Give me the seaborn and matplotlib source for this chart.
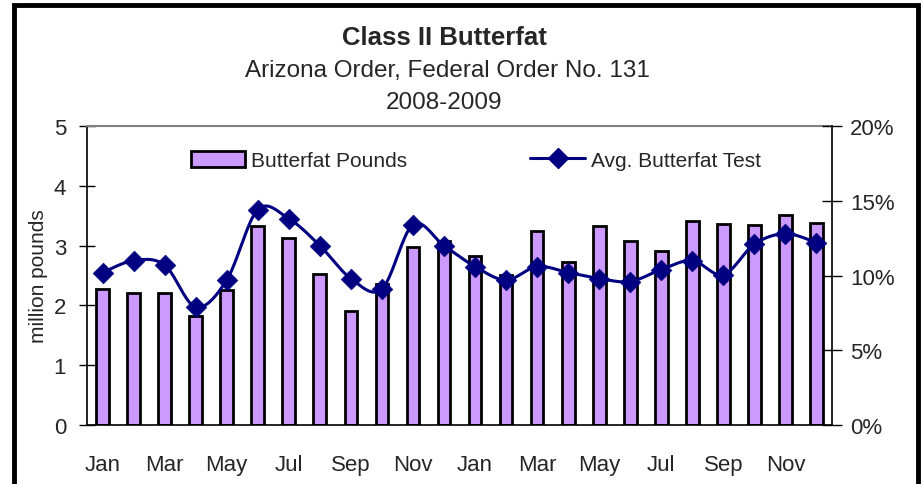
"""
Class II Butterfat chart - Arizona Order, Federal Order No. 131, 2008-2009
"""

import numpy as np
import pandas as pd
import matplotlib.pyplot as plt
import seaborn as sns
from matplotlib.patches import Rectangle
from matplotlib.lines import Line2D

# -----------------------------
# Data
# -----------------------------
months = ["Jan", "Feb", "Mar", "Apr", "May", "Jun",
          "Jul", "Aug", "Sep", "Oct", "Nov", "Dec"] * 2
years = [2008] * 12 + [2009] * 12

# million pounds
butterfat_pounds = [2.27, 2.21, 2.20, 1.83, 2.25, 3.33, 3.13, 2.53, 1.91, 2.36, 2.97, 3.08,
                    2.82, 2.51, 3.25, 2.72, 3.33, 3.08, 2.91, 3.42, 3.36, 3.34, 3.52, 3.37]

# percent
avg_test = [10.2, 11.0, 10.7, 7.9, 9.7, 14.4, 13.8, 12.0, 9.8, 9.1, 13.4, 12.0,
            10.6, 9.7, 10.6, 10.2, 9.8, 9.6, 10.4, 11.0, 10.05, 12.1, 12.8, 12.2]

tick_labels = ["Jan", "Mar", "May", "Jul", "Sep", "Nov"] * 2

BAR_COLOR = "#CC99FF"
LINE_COLOR = "#000080"


def smooth(x, y, n=20):
    # Catmull-Rom style curve through the points, like a spreadsheet "smoothed line"
    x = np.asarray(x, float)
    y = np.asarray(y, float)
    px = np.concatenate([[x[0]], x, [x[-1]]])
    py = np.concatenate([[y[0]], y, [y[-1]]])
    xs, ys = [], []
    t = np.linspace(0, 1, n, endpoint=False)
    for i in range(1, len(px) - 2):
        p0, p1, p2, p3 = px[i - 1], px[i], px[i + 1], px[i + 2]
        q0, q1, q2, q3 = py[i - 1], py[i], py[i + 1], py[i + 2]
        c1x, c1y = p1 + (p2 - p0) / 6, q1 + (q2 - q0) / 6
        c2x, c2y = p2 - (p3 - p1) / 6, q2 - (q3 - q1) / 6
        b = [(1 - t) ** 3, 3 * (1 - t) ** 2 * t, 3 * (1 - t) * t ** 2, t ** 3]
        xs.append(b[0] * p1 + b[1] * c1x + b[2] * c2x + b[3] * p2)
        ys.append(b[0] * q1 + b[1] * c1y + b[2] * c2y + b[3] * q2)
    xs.append([x[-1]])
    ys.append([y[-1]])
    return np.concatenate(xs), np.concatenate(ys)


def main():
    sns.set_style("white")
    plt.rcParams["font.family"] = ["Liberation Sans", "DejaVu Sans"]

    df = pd.DataFrame({
        "idx": range(len(months)),
        "month": months,
        "year": years,
        "pounds": butterfat_pounds,
        "test": avg_test,
    })

    fig = plt.figure(figsize=(9.23, 4.85), dpi=100)
    ax = fig.add_axes([0.0943, 0.1216, 0.8071, 0.6165])

    sns.barplot(data=df, x="idx", y="pounds", color=BAR_COLOR, width=0.41,
                edgecolor="black", linewidth=2, saturation=1, ax=ax)
    ax.set_xlim(-0.5, len(months) - 0.5)
    ax.set_ylim(0, 5)
    ax.set_yticks(range(0, 6))
    ax.set_ylabel("million pounds", fontsize=15, labelpad=4)
    ax.set_xlabel("")

    ax.set_xticks(range(0, len(months), 2))
    ax.set_xticklabels(tick_labels, fontsize=16)
    ax.set_xticks(np.arange(-0.5, len(months), 1), minor=True)
    ax.tick_params(axis="x", which="major", length=0, pad=21)
    ax.tick_params(axis="x", which="minor", direction="inout", length=14, width=1, color="black")
    ax.tick_params(axis="y", direction="inout", length=12, width=1, color="black",
                   labelsize=16, pad=9)

    for side in ["left", "bottom"]:
        ax.spines[side].set_color("black")
        ax.spines[side].set_linewidth(1.2)
    ax.spines["top"].set_color("#808080")
    ax.spines["top"].set_linewidth(1.5)
    ax.spines["right"].set_visible(False)

    ax2 = ax.twinx()
    sx, sy = smooth(df["idx"], df["test"])
    ax2.plot(sx, sy, color=LINE_COLOR, linewidth=2.2, zorder=3)
    sns.scatterplot(data=df, x="idx", y="test", marker="D", s=110, color=LINE_COLOR,
                    edgecolor=LINE_COLOR, linewidth=0.5, ax=ax2, zorder=4)
    ax2.set_ylim(0, 20)
    ax2.set_yticks(range(0, 21, 5))
    ax2.set_yticklabels([f"{v}%" for v in range(0, 21, 5)])
    ax2.set_ylabel("")
    ax2.set_xlim(-0.5, len(months) - 0.5)
    ax2.tick_params(axis="y", direction="inout", length=14, width=1, color="black",
                    labelsize=16, pad=6)
    ax2.spines["right"].set_color("black")
    ax2.spines["right"].set_linewidth(1.2)
    for side in ["left", "top", "bottom"]:
        ax2.spines[side].set_visible(False)

    # legend
    handles = [
        Rectangle((0, 0), 1, 1, facecolor=BAR_COLOR, edgecolor="black", linewidth=2),
        Line2D([0], [0], color=LINE_COLOR, linewidth=2.2, marker="D", markersize=10),
    ]
    ax2.legend(handles, ["Butterfat Pounds", "Avg. Butterfat Test"], ncol=2,
               loc="upper center", bbox_to_anchor=(0.522, 0.98), frameon=False,
               fontsize=15, handlelength=2.6, handleheight=0.8, handletextpad=0.3,
               columnspacing=5.9)

    # titles
    fig.text(0.482, 0.921, "Class II Butterfat", ha="center", va="center",
             fontsize=18.5, fontweight="bold")
    fig.text(0.485, 0.853, "Arizona Order, Federal Order No. 131", ha="center",
             va="center", fontsize=17.5)
    fig.text(0.481, 0.787, "2008-2009", ha="center", va="center", fontsize=17.5)

    # outer border
    fig.patches.append(Rectangle((14 / 923, -0.05), 904 / 923, 1 - 6 / 485 + 0.05,
                                 transform=fig.transFigure, fill=False,
                                 edgecolor="black", linewidth=3.5))

    fig.savefig("out.png", dpi=100)
    plt.close(fig)


if __name__ == "__main__":
    main()
